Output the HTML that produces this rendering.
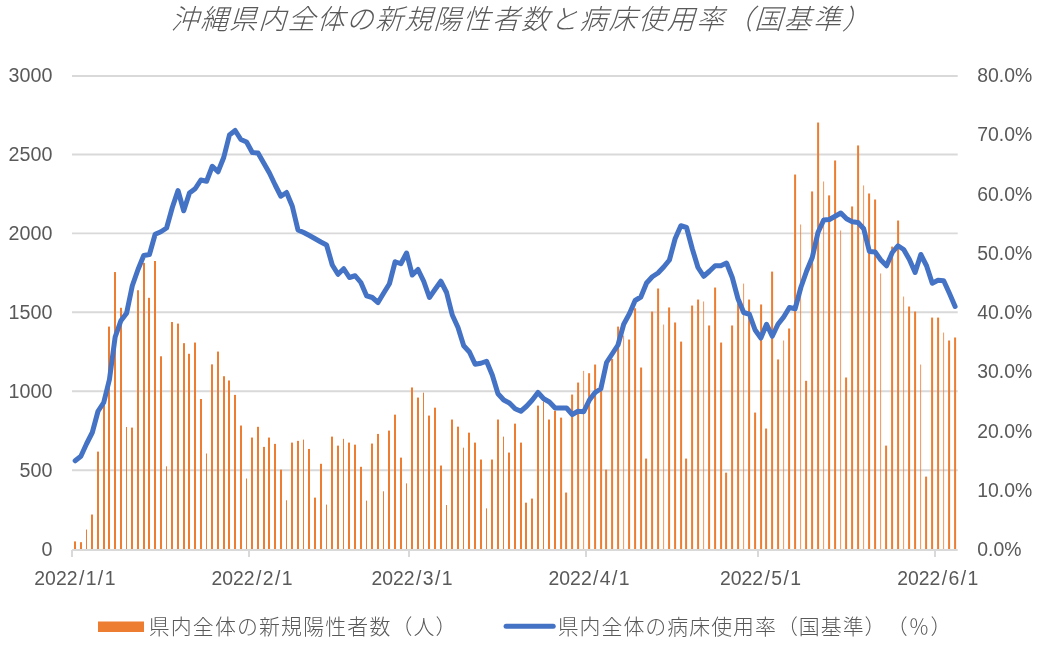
<!DOCTYPE html>
<html lang="ja"><head><meta charset="utf-8"><title>沖縄県内全体の新規陽性者数と病床使用率（国基準）</title>
<style>html,body{margin:0;padding:0;background:#fff}body{width:1037px;height:652px;overflow:hidden}svg{display:block;will-change:transform}text{fill:#595959;text-spacing-trim:space-all;font-kerning:none}</style>
</head><body>
<svg width="1037" height="652" viewBox="0 0 1037 652">
<g transform="translate(520.9,29.0) skewX(-17)"><text x="0" y="0" text-anchor="middle" style="font-family:'Liberation Sans','Noto Sans CJK JP',sans-serif;font-size:27.6px;font-weight:300;letter-spacing:1.6px">沖縄県内全体の新規陽性者数と病床使用率（国基準）</text></g>
<g stroke="#d9d9d9" fill="none">
<line x1="72.0" y1="76" x2="957.7" y2="76" stroke-width="2"/>
<line x1="72.0" y1="154.50" x2="957.7" y2="154.50" stroke-width="1.9"/>
<line x1="72.0" y1="233.40" x2="957.7" y2="233.40" stroke-width="1.9"/>
<line x1="72.0" y1="312.30" x2="957.7" y2="312.30" stroke-width="1.9"/>
<line x1="72.0" y1="391.30" x2="957.7" y2="391.30" stroke-width="1.9"/>
<line x1="72.0" y1="470.30" x2="957.7" y2="470.30" stroke-width="1.9"/>
</g>
<g fill="#ed7d31">
<rect x="74" y="541.41" width="2" height="8.69"/>
<rect x="80" y="542.20" width="2" height="7.90"/>
<rect x="86" y="529.55" width="1" height="20.55"/>
<rect x="91" y="514.53" width="2" height="35.57"/>
<rect x="97" y="451.62" width="2" height="98.48"/>
<rect x="103" y="395.04" width="2" height="155.06"/>
<rect x="108" y="326.59" width="2" height="223.51"/>
<rect x="114" y="272.06" width="2" height="278.04"/>
<rect x="120" y="307.78" width="2" height="242.32"/>
<rect x="126" y="426.97" width="1" height="123.13"/>
<rect x="131" y="427.60" width="2" height="122.50"/>
<rect x="137" y="290.24" width="2" height="259.86"/>
<rect x="143" y="262.89" width="2" height="287.21"/>
<rect x="148" y="297.83" width="2" height="252.27"/>
<rect x="154" y="261.00" width="2" height="289.10"/>
<rect x="160" y="356.31" width="2" height="193.79"/>
<rect x="166" y="466.32" width="1" height="83.78"/>
<rect x="171" y="322.01" width="2" height="228.09"/>
<rect x="177" y="323.59" width="2" height="226.51"/>
<rect x="183" y="343.19" width="2" height="206.91"/>
<rect x="188" y="353.78" width="2" height="196.32"/>
<rect x="194" y="342.56" width="2" height="207.54"/>
<rect x="200" y="398.99" width="2" height="151.11"/>
<rect x="206" y="453.52" width="1" height="96.58"/>
<rect x="211" y="364.37" width="2" height="185.73"/>
<rect x="217" y="351.57" width="2" height="198.53"/>
<rect x="223" y="376.23" width="2" height="173.87"/>
<rect x="228" y="380.49" width="2" height="169.61"/>
<rect x="234" y="394.88" width="2" height="155.22"/>
<rect x="240" y="425.54" width="2" height="124.56"/>
<rect x="246" y="478.50" width="1" height="71.60"/>
<rect x="251" y="437.56" width="2" height="112.54"/>
<rect x="257" y="426.81" width="2" height="123.29"/>
<rect x="263" y="446.88" width="2" height="103.22"/>
<rect x="268" y="437.56" width="2" height="112.54"/>
<rect x="274" y="443.88" width="2" height="106.22"/>
<rect x="280" y="469.64" width="2" height="80.46"/>
<rect x="286" y="500.31" width="1" height="49.79"/>
<rect x="291" y="442.61" width="2" height="107.49"/>
<rect x="297" y="440.88" width="2" height="109.22"/>
<rect x="303" y="439.61" width="1" height="110.49"/>
<rect x="308" y="448.94" width="2" height="101.16"/>
<rect x="314" y="497.62" width="2" height="52.48"/>
<rect x="320" y="463.80" width="2" height="86.30"/>
<rect x="326" y="504.58" width="1" height="45.52"/>
<rect x="331" y="436.61" width="2" height="113.49"/>
<rect x="337" y="445.62" width="2" height="104.48"/>
<rect x="343" y="438.82" width="1" height="111.28"/>
<rect x="348" y="442.61" width="2" height="107.49"/>
<rect x="354" y="444.67" width="2" height="105.43"/>
<rect x="360" y="466.80" width="2" height="83.30"/>
<rect x="366" y="500.63" width="1" height="49.47"/>
<rect x="371" y="443.56" width="2" height="106.54"/>
<rect x="377" y="433.92" width="2" height="116.18"/>
<rect x="383" y="491.30" width="1" height="58.80"/>
<rect x="388" y="430.60" width="2" height="119.50"/>
<rect x="394" y="414.64" width="2" height="135.46"/>
<rect x="400" y="457.63" width="2" height="92.47"/>
<rect x="406" y="483.40" width="1" height="66.70"/>
<rect x="411" y="387.45" width="2" height="162.65"/>
<rect x="417" y="397.57" width="2" height="152.53"/>
<rect x="423" y="392.67" width="1" height="157.43"/>
<rect x="428" y="415.59" width="2" height="134.51"/>
<rect x="434" y="407.68" width="2" height="142.42"/>
<rect x="440" y="465.53" width="2" height="84.57"/>
<rect x="446" y="505.05" width="1" height="45.05"/>
<rect x="451" y="419.54" width="2" height="130.56"/>
<rect x="457" y="426.65" width="2" height="123.45"/>
<rect x="463" y="447.67" width="1" height="102.43"/>
<rect x="468" y="432.66" width="2" height="117.44"/>
<rect x="474" y="442.61" width="2" height="107.49"/>
<rect x="480" y="459.53" width="2" height="90.57"/>
<rect x="486" y="508.37" width="1" height="41.73"/>
<rect x="491" y="459.53" width="2" height="90.57"/>
<rect x="497" y="419.54" width="2" height="130.56"/>
<rect x="503" y="436.61" width="1" height="113.49"/>
<rect x="508" y="452.57" width="2" height="97.53"/>
<rect x="514" y="423.65" width="2" height="126.45"/>
<rect x="520" y="442.61" width="2" height="107.49"/>
<rect x="525" y="502.68" width="2" height="47.42"/>
<rect x="531" y="498.57" width="2" height="51.53"/>
<rect x="537" y="405.63" width="2" height="144.47"/>
<rect x="543" y="401.36" width="1" height="148.74"/>
<rect x="548" y="419.54" width="2" height="130.56"/>
<rect x="554" y="410.69" width="2" height="139.41"/>
<rect x="560.1" y="417.64" width="2" height="132.46"/>
<rect x="565.1" y="492.56" width="2" height="57.54"/>
<rect x="571.1" y="394.56" width="2" height="155.54"/>
<rect x="577.1" y="382.55" width="2" height="167.55"/>
<rect x="583.1" y="370.85" width="1" height="179.25" fill-opacity="0.8"/>
<rect x="588.1" y="373.22" width="2" height="176.88"/>
<rect x="594.1" y="364.53" width="2" height="185.57"/>
<rect x="600.1" y="386.98" width="2" height="163.12"/>
<rect x="605.1" y="469.64" width="2" height="80.46"/>
<rect x="611.1" y="358.84" width="2" height="191.26"/>
<rect x="617.1" y="326.59" width="2" height="223.51"/>
<rect x="623.1" y="335.60" width="1" height="214.50" fill-opacity="0.8"/>
<rect x="628.1" y="339.56" width="2" height="210.54"/>
<rect x="634.1" y="308.26" width="2" height="241.84"/>
<rect x="640.1" y="367.53" width="2" height="182.57"/>
<rect x="645.1" y="458.58" width="2" height="91.52"/>
<rect x="651.1" y="311.58" width="2" height="238.52"/>
<rect x="657.1" y="288.50" width="2" height="261.60"/>
<rect x="663.1" y="324.54" width="1" height="225.56" fill-opacity="0.8"/>
<rect x="668.1" y="307.47" width="2" height="242.63"/>
<rect x="674.1" y="322.48" width="2" height="227.62"/>
<rect x="680.1" y="341.61" width="2" height="208.49"/>
<rect x="685.1" y="458.58" width="2" height="91.52"/>
<rect x="691.1" y="305.57" width="2" height="244.53"/>
<rect x="697.1" y="299.56" width="2" height="250.54"/>
<rect x="703.1" y="301.46" width="1" height="248.64" fill-opacity="0.8"/>
<rect x="708.1" y="325.49" width="2" height="224.61"/>
<rect x="714.1" y="287.55" width="2" height="262.55"/>
<rect x="720.1" y="342.56" width="2" height="207.54"/>
<rect x="725.1" y="472.65" width="2" height="77.45"/>
<rect x="731.1" y="325.49" width="2" height="224.61"/>
<rect x="737.1" y="303.52" width="2" height="246.58"/>
<rect x="743.1" y="283.60" width="1" height="266.50" fill-opacity="0.8"/>
<rect x="748.1" y="299.56" width="2" height="250.54"/>
<rect x="754.1" y="412.58" width="2" height="137.52"/>
<rect x="760.1" y="304.46" width="2" height="245.64"/>
<rect x="765.1" y="428.55" width="2" height="121.55"/>
<rect x="771.1" y="271.59" width="2" height="278.51"/>
<rect x="777.1" y="359.47" width="2" height="190.63"/>
<rect x="783.1" y="340.50" width="1" height="209.60" fill-opacity="0.8"/>
<rect x="788.1" y="328.49" width="2" height="221.61"/>
<rect x="794.1" y="174.53" width="2" height="375.57"/>
<rect x="800.1" y="224.48" width="1" height="325.62" fill-opacity="0.8"/>
<rect x="805.1" y="380.81" width="2" height="169.29"/>
<rect x="811.1" y="191.45" width="2" height="358.65"/>
<rect x="817.1" y="122.53" width="2" height="427.57"/>
<rect x="823.1" y="181.49" width="1" height="368.61" fill-opacity="0.8"/>
<rect x="828.1" y="195.40" width="2" height="354.70"/>
<rect x="834.1" y="160.47" width="2" height="389.63"/>
<rect x="840.1" y="230.49" width="1" height="319.61" fill-opacity="0.8"/>
<rect x="845.1" y="377.49" width="2" height="172.61"/>
<rect x="851.1" y="206.46" width="2" height="343.64"/>
<rect x="857.1" y="145.45" width="2" height="404.65"/>
<rect x="863.1" y="185.44" width="1" height="364.66" fill-opacity="0.8"/>
<rect x="868.1" y="193.50" width="2" height="356.60"/>
<rect x="874.1" y="199.51" width="2" height="350.59"/>
<rect x="880.1" y="273.48" width="1" height="276.62" fill-opacity="0.8"/>
<rect x="885.1" y="445.62" width="2" height="104.48"/>
<rect x="891.1" y="246.61" width="2" height="303.49"/>
<rect x="897.1" y="220.53" width="2" height="329.57"/>
<rect x="903.1" y="296.56" width="1" height="253.54" fill-opacity="0.8"/>
<rect x="908.1" y="306.52" width="2" height="243.58"/>
<rect x="914.1" y="311.58" width="2" height="238.52"/>
<rect x="920.1" y="364.53" width="1" height="185.57" fill-opacity="0.8"/>
<rect x="925.1" y="476.60" width="2" height="73.50"/>
<rect x="931.1" y="317.58" width="2" height="232.52"/>
<rect x="937.1" y="317.58" width="2" height="232.52"/>
<rect x="943.1" y="332.60" width="1" height="217.50" fill-opacity="0.8"/>
<rect x="948.1" y="340.50" width="2" height="209.60"/>
<rect x="954.1" y="337.50" width="2" height="212.60"/>
</g>
<g fill="#d9d9d9">
<rect x="72.0" y="549" width="885.7" height="2"/>
<rect x="71" y="550" width="2" height="7"/>
<rect x="248" y="550" width="2" height="7"/>
<rect x="408" y="550" width="2" height="7"/>
<rect x="585" y="550" width="2" height="7"/>
<rect x="757" y="550" width="2" height="7"/>
<rect x="934" y="550" width="2" height="7"/>
</g>
<polyline points="75.16,460.75 80.87,456.25 86.58,443.75 92.30,432.50 98.01,411.25 103.73,402.50 109.44,379.50 115.16,337.00 120.87,320.75 126.58,313.25 132.30,285.75 138.01,269.50 143.73,255.50 149.44,254.50 155.15,234.25 160.87,231.75 166.58,228.00 172.30,207.50 178.01,190.50 183.72,210.75 189.44,193.00 195.15,188.75 200.87,180.00 206.58,181.25 212.29,166.25 218.01,171.75 223.72,157.50 229.44,135.00 235.15,130.50 240.86,139.50 246.58,142.00 252.29,152.50 258.01,153.00 263.72,163.00 269.43,173.00 275.15,185.00 280.86,196.25 286.57,192.50 292.29,206.25 298.00,230.00 303.72,232.50 309.43,235.50 315.15,238.75 320.86,242.00 326.57,245.00 332.29,265.00 338.00,274.25 343.72,268.75 349.43,277.50 355.14,275.75 360.86,282.50 366.57,295.75 372.29,297.50 378.00,302.50 383.71,293.00 389.43,283.75 395.14,261.75 400.86,263.75 406.57,253.00 412.28,275.00 418.00,269.50 423.71,281.25 429.43,297.50 435.14,289.25 440.85,281.25 446.57,292.50 452.28,315.00 458.00,327.50 463.71,345.75 469.42,352.00 475.14,364.25 480.85,363.25 486.57,361.25 492.28,375.00 497.99,393.75 503.71,400.00 509.42,403.00 515.13,408.75 520.85,411.25 526.56,406.25 532.28,400.00 537.99,392.50 543.70,398.75 549.42,402.00 555.13,408.00 560.85,408.00 566.56,408.00 572.27,414.50 577.99,411.25 583.70,411.75 589.42,400.00 595.13,392.50 600.85,388.75 606.56,362.50 612.27,353.75 617.99,345.00 623.70,324.25 629.41,313.75 635.13,300.50 640.84,297.00 646.56,283.00 652.27,276.75 657.99,273.00 663.70,267.00 669.41,260.00 675.13,238.75 680.84,225.75 686.55,227.50 692.27,248.75 697.98,267.50 703.70,276.25 709.41,271.25 715.12,265.75 720.84,265.75 726.55,263.00 732.27,277.50 737.98,298.75 743.70,312.50 749.41,314.25 755.12,330.00 760.84,338.00 766.55,324.25 772.26,336.25 777.98,324.25 783.69,317.00 789.41,307.50 795.12,308.75 800.84,287.50 806.55,271.25 812.26,257.50 817.98,232.50 823.69,220.00 829.40,219.50 835.12,216.25 840.83,213.00 846.55,218.75 852.26,221.75 857.98,222.50 863.69,228.75 869.40,251.50 875.12,252.00 880.83,260.00 886.54,265.75 892.26,252.50 897.97,245.75 903.69,249.50 909.40,259.50 915.12,272.50 920.83,254.50 926.54,265.75 932.26,283.25 937.97,280.25 943.69,280.75 949.40,293.25 955.11,306.50" fill="none" stroke="#4472c4" stroke-width="5" stroke-linejoin="round" stroke-linecap="round"/>
<g style="font-family:'Liberation Sans',sans-serif;font-size:19.7px" text-anchor="end">
<text x="52.4" y="556.2">0</text>
<text x="52.4" y="477.2">500</text>
<text x="52.4" y="398.1">1000</text>
<text x="52.4" y="319.1">1500</text>
<text x="52.4" y="240.1">2000</text>
<text x="52.4" y="161.0">2500</text>
<text x="52.4" y="82.0">3000</text>
</g>
<g style="font-family:'Liberation Sans',sans-serif;font-size:19.4px" text-anchor="start">
<text x="977.3" y="556.2">0.0%</text>
<text x="977.3" y="496.9">10.0%</text>
<text x="977.3" y="437.7">20.0%</text>
<text x="977.3" y="378.4">30.0%</text>
<text x="977.3" y="319.1">40.0%</text>
<text x="977.3" y="259.8">50.0%</text>
<text x="977.3" y="200.5">60.0%</text>
<text x="977.3" y="141.3">70.0%</text>
<text x="977.3" y="82.0">80.0%</text>
</g>
<g style="font-family:'Liberation Sans',sans-serif;font-size:19.4px" text-anchor="middle">
<text x="74.9" y="585.2">2022<tspan dx="1.4">/</tspan><tspan dx="1.4">1</tspan><tspan dx="1.4">/</tspan><tspan dx="1.4">1</tspan></text>
<text x="252.0" y="585.2">2022<tspan dx="1.4">/</tspan><tspan dx="1.4">2</tspan><tspan dx="1.4">/</tspan><tspan dx="1.4">1</tspan></text>
<text x="412.0" y="585.2">2022<tspan dx="1.4">/</tspan><tspan dx="1.4">3</tspan><tspan dx="1.4">/</tspan><tspan dx="1.4">1</tspan></text>
<text x="589.1" y="585.2">2022<tspan dx="1.4">/</tspan><tspan dx="1.4">4</tspan><tspan dx="1.4">/</tspan><tspan dx="1.4">1</tspan></text>
<text x="760.5" y="585.2">2022<tspan dx="1.4">/</tspan><tspan dx="1.4">5</tspan><tspan dx="1.4">/</tspan><tspan dx="1.4">1</tspan></text>
<text x="937.7" y="585.2">2022<tspan dx="1.4">/</tspan><tspan dx="1.4">6</tspan><tspan dx="1.4">/</tspan><tspan dx="1.4">1</tspan></text>
</g>
<rect x="98" y="621.5" width="46" height="10.5" fill="#ed7d31"/>
<text x="148.7" y="633.8" style="font-family:'Liberation Sans','Noto Sans CJK JP',sans-serif;font-size:20.9px;font-weight:300;letter-spacing:1.18px">県内全体の新規陽性者数（人）</text>
<line x1="506.1" y1="626.3" x2="553.2" y2="626.3" stroke="#4472c4" stroke-width="5" stroke-linecap="round"/>
<text x="557.7" y="633.8" style="font-family:'Liberation Sans','Noto Sans CJK JP',sans-serif;font-size:20.9px;font-weight:300;letter-spacing:1.03px">県内全体の病床使用率（国基準）</text>
<text x="886.7" y="633.8" style="font-family:'Liberation Sans','Noto Sans CJK JP',sans-serif;font-size:20.9px;font-weight:300;letter-spacing:1.03px">（％）</text>
</svg>
</body></html>
